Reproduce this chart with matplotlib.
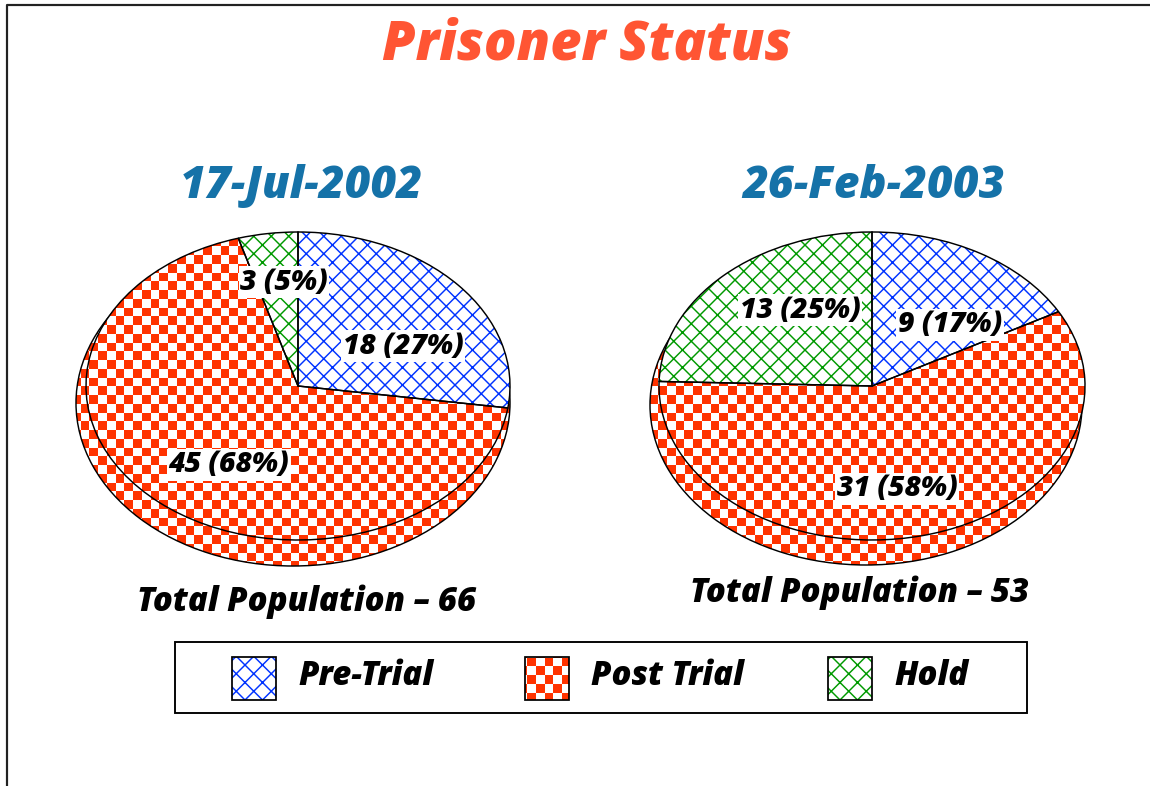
import numpy as np
import matplotlib
matplotlib.use('Agg')
import matplotlib.pyplot as plt
from matplotlib.colors import ListedColormap
from matplotlib.patches import Rectangle

title = 'Prisoner Status'
dates = ['17-Jul-2002', '26-Feb-2003']
categories = ['Pre-Trial', 'Post Trial', 'Hold']
values_2002 = [18, 45, 3]
values_2003 = [9, 31, 13]

W, H = 1150, 786
DPI = 105
CELL = 8.75

RED = '#ff3300'
BLUE = '#0033ff'
GREEN = '#009900'
colors = [BLUE, RED, GREEN]

plt.rcParams['font.family'] = ['Open Sans', 'DejaVu Sans']
plt.rcParams['hatch.linewidth'] = 1.0

fig = plt.figure(figsize=(W / DPI, H / DPI), dpi=DPI, facecolor='white')

# overlay in pixel coordinates, for text, legend and the checker grid
top = fig.add_axes([0, 0, 1, 1], zorder=5)
top.set_xlim(0, W)
top.set_ylim(H, 0)
top.axis('off')

ny, nx = int(H / CELL) + 1, int(W / CELL) + 1
yy, xx = np.indices((ny, nx))
checker = (xx + yy) % 2
checker_extent = (2, nx * CELL + 2, ny * CELL + 1.5, 1.5)
checker_cmap = ListedColormap(['white', RED])


def add_checker(ax, patch):
    im = ax.imshow(checker, extent=checker_extent, transform=top.transData, cmap=checker_cmap,
                   interpolation='nearest', aspect='auto', zorder=0)
    im.set_clip_path(patch)


def disc_axes(cx, cy, rx, ry, zorder):
    return fig.add_axes([(cx - rx) / W, 1 - (cy + ry) / H, 2 * rx / W, 2 * ry / H], zorder=zorder)


def finish(ax):
    ax.set_aspect('auto')
    ax.set_xlim(-1, 1)
    ax.set_ylim(-1, 1)
    ax.axis('off')


def draw_pie(values, upper, lower, z):
    # thicker rim: a larger red ellipse behind the pie
    ax = disc_axes(*lower, z)
    rim, _ = ax.pie([sum(values)], colors=['none'], startangle=90,
                    wedgeprops={'edgecolor': 'black', 'linewidth': 1.0})
    add_checker(ax, rim[0])
    finish(ax)

    ax = disc_axes(*upper, z + 1)
    wedges, _ = ax.pie(values, colors=colors, startangle=90, counterclock=False,
                       wedgeprops={'linewidth': 0})
    for w, c in zip(wedges, colors):
        if c == RED:
            w.set_facecolor('none')
            add_checker(ax, w)
        else:
            w.set_facecolor('white')
            w.set_edgecolor(c)
            w.set_hatch('xx')
    ax.pie(values, colors=['none'] * 3, startangle=90, counterclock=False,
           wedgeprops={'edgecolor': 'black', 'linewidth': 1.0})
    finish(ax)


draw_pie(values_2002, (298, 386, 212, 154), (293, 403, 217, 163), 1)
draw_pie(values_2003, (872, 386, 213, 154), (866, 405, 216, 160), 3)

bold = {'fontweight': 800, 'fontstyle': 'italic', 'ha': 'center', 'va': 'center'}
top.text(587, 45, title, color='#ff5533', fontsize=37, **bold)
top.text(301, 187, dates[0], color='#1572a8', fontsize=30.5, **bold)
top.text(874, 187, dates[1], color='#1572a8', fontsize=30.5, **bold)


def pie_label(x, y, v, total):
    top.text(x, y, f'{v} ({round(100 * v / total)}%)', color='black', fontsize=19.5,
             bbox={'facecolor': 'white', 'edgecolor': 'none', 'pad': 1.0}, **bold)


total_2002 = sum(values_2002)
total_2003 = sum(values_2003)
pie_label(403, 346, values_2002[0], total_2002)
pie_label(229, 465, values_2002[1], total_2002)
pie_label(284, 282, values_2002[2], total_2002)
pie_label(950, 325, values_2003[0], total_2003)
pie_label(897, 489, values_2003[1], total_2003)
pie_label(800, 310, values_2003[2], total_2003)

top.text(307, 602, f'Total Population \u2013 {total_2002}', color='black', fontsize=22.5, **bold)
top.text(860, 593, f'Total Population \u2013 {total_2003}', color='black', fontsize=22.5, **bold)

# legend
top.add_patch(Rectangle((175, 642), 852, 71, facecolor='white', edgecolor='black', linewidth=1.3))
for x, tx, name, c in zip([232, 525, 828], [298, 591, 894], categories, colors):
    if c == RED:
        swatch = Rectangle((x, 657), 44, 43, facecolor='none', edgecolor='black', linewidth=1.2, zorder=2)
        top.add_patch(swatch)
        im = top.imshow(checker, extent=checker_extent, cmap=checker_cmap, interpolation='nearest',
                        aspect='auto', zorder=1.5)
        im.set_clip_path(swatch)
    else:
        top.add_patch(Rectangle((x, 657), 44, 43, facecolor='white', edgecolor=c, linewidth=0,
                                hatch='xx', zorder=1.5))
        top.add_patch(Rectangle((x, 657), 44, 43, facecolor='none', edgecolor='black', linewidth=1.2, zorder=2))
    top.text(tx, 676, name, color='black', fontsize=22.5, fontweight=800, fontstyle='italic',
             ha='left', va='center')

# page frame, open at the right and bottom
top.plot([7, 7, W], [H, 5, 5], color='#222222', linewidth=1.5, clip_on=False)
top.set_xlim(0, W)
top.set_ylim(H, 0)

fig.savefig('out.png', dpi=DPI)
